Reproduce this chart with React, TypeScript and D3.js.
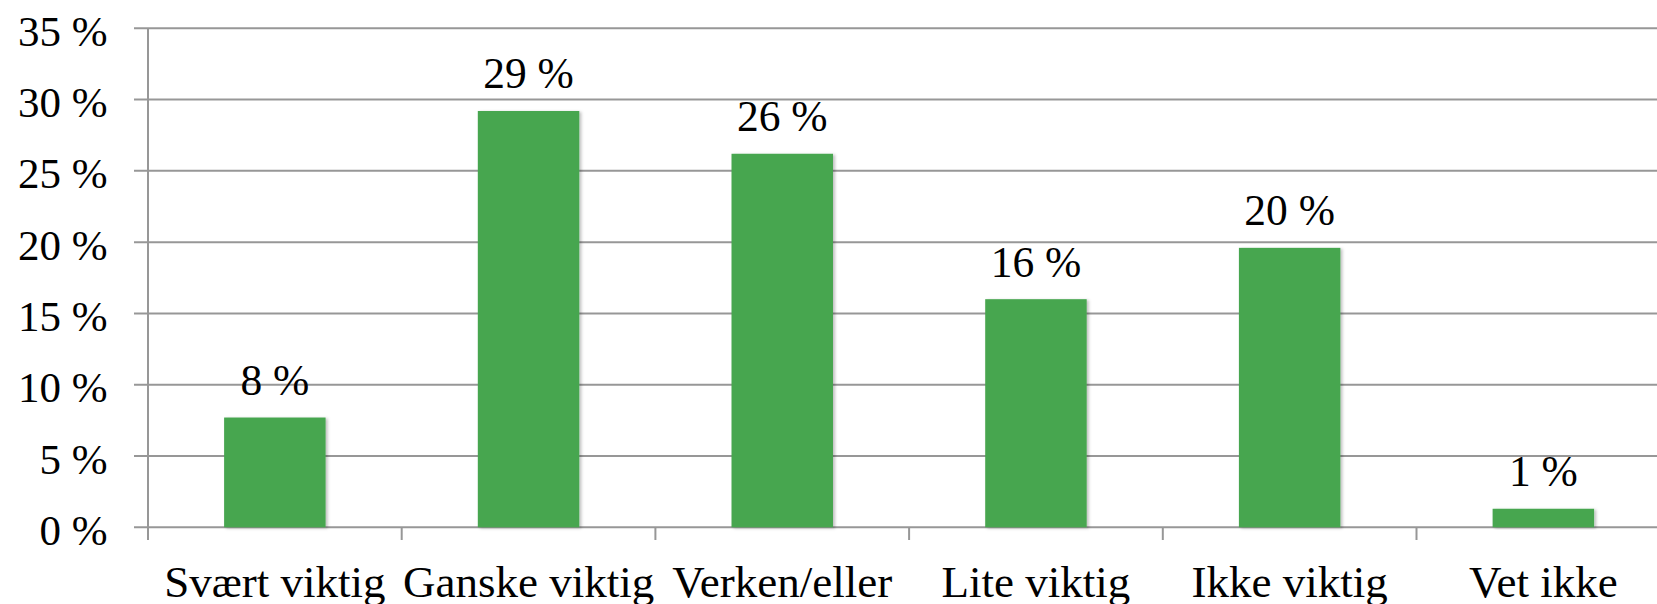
import React from "react";
import * as d3 from "d3";

const categories = ["Svært viktig", "Ganske viktig", "Verken/eller", "Lite viktig", "Ikke viktig", "Vet ikke"];
const values = [7.7, 29.2, 26.2, 16.0, 19.6, 1.3];
const valueLabels = ["8 %", "29 %", "26 %", "16 %", "20 %", "1 %"];
const yTicks = [0, 5, 10, 15, 20, 25, 30, 35];

const W = 1657;
const H = 604;
const FONT = "'Liberation Serif', 'DejaVu Serif', serif";

export default function App() {
  const x0 = 148;
  const step = 253.7;
  const x = d3
    .scaleBand<string>()
    .domain(categories)
    .range([x0, x0 + step * categories.length])
    .paddingInner(0.6)
    .paddingOuter(0.3);
  const y = d3.scaleLinear().domain([0, 35]).range([527.3, 28.3]);
  const gridColor = "#979797";
  const green = "#47a64f";

  return (
    <svg
      width={W}
      height={H}
      style={{ position: "absolute", left: 0, top: 0, background: "#fff" }}
    >
      <defs>
        <filter id="sh" x="-10%" y="-10%" width="130%" height="120%">
          <feDropShadow dx="2" dy="1" stdDeviation="1.5" floodColor="#000" floodOpacity="0.25" />
        </filter>
      </defs>
      <rect x={0} y={0} width={W} height={H} fill="#fff" />
      {yTicks.map((t) => (
        <g key={t}>
          <line x1={134} x2={W} y1={y(t)} y2={y(t)} stroke={gridColor} strokeWidth={2} />
          <text
            x={107.5}
            y={y(t) + 17.5}
            textAnchor="end"
            fontFamily={FONT}
            fontSize={43}
            fill="#000"
          >
            {t} %
          </text>
        </g>
      ))}
      <line x1={x0} x2={x0} y1={y(35)} y2={540} stroke={gridColor} strokeWidth={2} />
      {categories.map((c, i) => {
        const bx = x0 + step * (i + 1);
        return <line key={"t" + c} x1={bx} x2={bx} y1={y(0)} y2={540} stroke={gridColor} strokeWidth={2} />;
      })}
      {categories.map((c, i) => (
        <rect
          key={c}
          x={x(c)!}
          y={y(values[i])}
          width={x.bandwidth()}
          height={y(0) - y(values[i])}
          fill={green}
          filter="url(#sh)"
        />
      ))}
      {categories.map((c, i) => (
        <text
          key={"v" + c}
          x={x(c)! + x.bandwidth() / 2}
          y={y(values[i]) - 22.5}
          textAnchor="middle"
          fontFamily={FONT}
          fontSize={43.5}
          fill="#000"
        >
          {valueLabels[i]}
        </text>
      ))}
      {categories.map((c) => (
        <text
          key={"c" + c}
          x={x(c)! + x.bandwidth() / 2}
          y={597}
          textAnchor="middle"
          fontFamily={FONT}
          fontSize={45}
          fill="#000"
        >
          {c}
        </text>
      ))}
    </svg>
  );
}
